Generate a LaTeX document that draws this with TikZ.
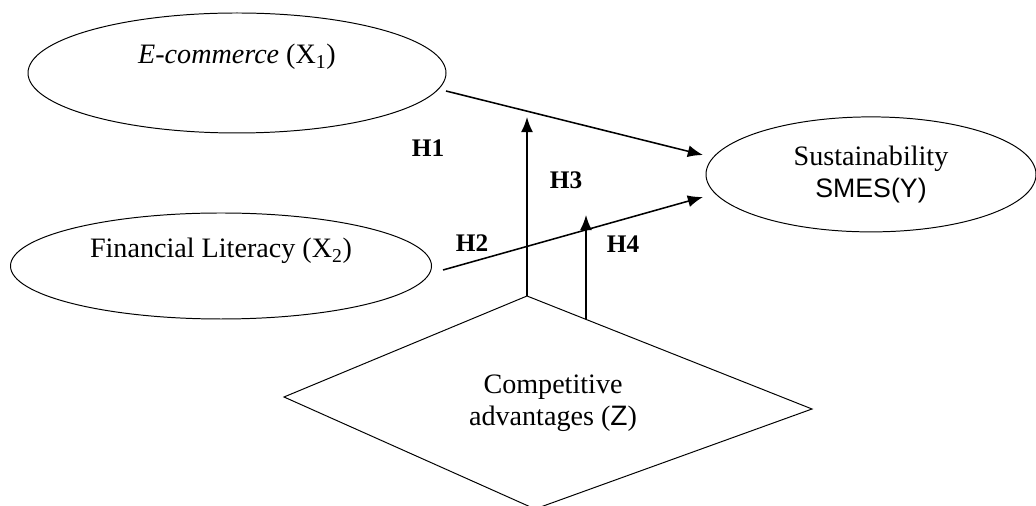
\documentclass[tikz,border=0pt]{standalone}
\usepackage{fontspec}
\setmainfont{Liberation Serif}
\newfontfamily\arialf{Liberation Sans}
\usetikzlibrary{shapes.geometric, positioning, arrows.meta, calc}
\tikzset{
	>={Latex[length=3.8mm,width=3mm]}, % Punta de flecha rellena
	var/.style={ellipse, draw, line width=0.7pt}, % Variables latentes
	txt/.style={font=\fontsize{20}{23}\selectfont, align=center}, % Texto de los nodos
	hyp/.style={font=\fontsize{18}{22}\selectfont\bfseries}, % Etiquetas de hipotesis
	link/.style={->, line width=1.1pt} % Arcos
}

\begin{document}
\begin{tikzpicture}
				\useasboundingbox (0,0) rectangle (25.9,12.65);
				\node[var, minimum width=10.45cm, minimum height=3cm] (x1) at (5.925,10.825) {};
				\node[var, minimum width=10.525cm, minimum height=2.65cm] (x2) at (5.525,6.0) {};
				\node[var, minimum width=8.25cm, minimum height=2.875cm] (y) at (21.775,8.29) {};
				\node[txt] (x1t) at ([yshift=0.4cm]x1.center) {\textit{E-commerce} (X\textsubscript{1})};
				\node[txt] (x2t) at ([yshift=0.375cm]x2.center) {Financial Literacy (X\textsubscript{2})};
				\node[txt] (yt) at (y.center) {Sustainability\\{\arialf\fontsize{19}{23}\selectfont SMES(Y)}};
				% Moderadora
				\coordinate (ztop) at (13.175,5.25);
				\coordinate (zright) at (20.3,2.425);
				\coordinate (zbottom) at (13.375,-0.075);
				\coordinate (zleft) at (7.1,2.725);
				\draw[line width=0.7pt] (ztop) -- (zright) -- (zbottom) -- (zleft) -- cycle;
				\node[txt] (z) at (13.825,2.575) {Competitive\\advantages ({\arialf Z})};
				% Puntos de los arcos
				\coordinate (h1s) at (11.15,10.375);
				\coordinate (h1e) at (17.575,8.775);
				\coordinate (h2s) at (11.075,5.9);
				\coordinate (h2e) at (17.575,7.725);
				\coordinate (h3e) at (13.175,9.725);
				\coordinate (h4s) at ($(ztop)!0.207!(zright)$);
				\coordinate (h4e) at (14.65,7.275);
				\draw[link] (h1s) -- (h1e);
				\draw[link] (h2s) -- (h2e);
				\draw[link] (ztop) -- (h3e);
				\draw[link] (h4s) -- (h4e);
				\node[hyp] (H1) at (10.7,8.95) {H1};
				\node[hyp] (H2) at (11.8,6.575) {H2};
				\node[hyp] (H3) at (14.15,8.15) {H3};
				\node[hyp] (H4) at (15.575,6.55) {H4};
			\end{tikzpicture}
\end{document}
